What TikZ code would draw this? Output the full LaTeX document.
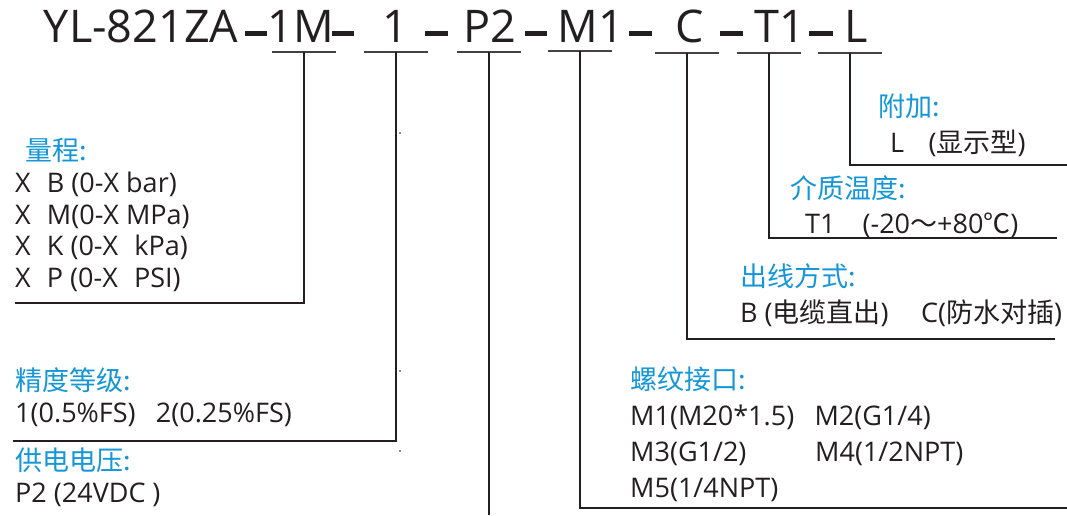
\documentclass[tikz,border=0pt]{standalone}
\usepackage{fontspec}
\setmainfont{Open Sans}
\newfontfamily\cjk{Noto Sans CJK SC}
\definecolor{ink}{HTML}{231F20}
\definecolor{hblue}{RGB}{20,150,215}
\begin{document}
\begin{tikzpicture}[x=1pt,y=-1pt,
  ttl/.style={font=\fontsize{45}{54}\selectfont, text=ink, inner sep=0, anchor=base},
  dashbar/.style={line width=4.5pt, draw=ink},
  bar/.style={line width=2pt, draw=ink!85},
  lead/.style={line width=2.2pt, draw=ink},
  head/.style={font=\cjk\fontsize{27}{30}\selectfont, text=hblue, inner sep=0, anchor=base west},
  body/.style={font=\fontsize{27}{30}\selectfont, text=ink, inner sep=0, anchor=base west}]
\useasboundingbox (0,0) rectangle (1067,515);
% title
\node[ttl] (tYL) at (141,42) {YL-821ZA};
\node[ttl] (t1M) at (301,42) {1M};
\node[ttl] (t1)  at (395,42) {1};
\node[ttl] (tP2) at (490,42) {P2};
\node[ttl] (tM1) at (591,42) {M1};
\node[ttl] (tC)  at (690,42) {C};
\node[ttl] (tT1) at (779.5,42) {T1};
\node[ttl] (tL)  at (856.5,42) {L};
\foreach \a/\b in {245/267,332/354,425/448,525/547,629/652,720/743,809/833}
  \draw[dashbar] (\a,33.5) -- (\b,33.5);
% bars and leads
\coordinate (k1) at (304,52);  \coordinate (k1e) at (15,303);
\coordinate (k2) at (396,52);  \coordinate (k2e) at (13,441);
\coordinate (k3) at (489,52);  \coordinate (k3e) at (489,515);
\coordinate (k4) at (580,51);  \coordinate (k4e) at (1067,508);
\coordinate (k5) at (687,53);  \coordinate (k5e) at (1055,339);
\coordinate (k6) at (769,53);  \coordinate (k6e) at (1057,238);
\coordinate (k7) at (850,53);  \coordinate (k7e) at (1067,165);
\foreach \k in {k1,k2,k3,k4,k5,k6,k7}
  \draw[bar] ([xshift=-32pt]\k) -- ([xshift=32pt]\k);
\draw[lead] (k1) |- (k1e);
\draw[lead] (k2) |- (k2e);
\draw[lead] (k3) -- (k3e);
\draw[lead] (k4) |- (k4e);
\draw[lead] (k5) |- (k5e);
\draw[lead] (k6) |- (k6e);
\draw[lead] (k7) |- (k7e);
\fill[ink] (400,133) circle (0.9);
\fill[ink] (400,371) circle (0.9);
\fill[ink] (400,451) circle (0.9);
% left groups
\node[head] (h1) at (25,160) {量程:};
\node[body] (r1a) at (15,192) {X\hspace{0.6em}B (0-X bar)};
\node[body] (r1b) at (15,224) {X\hspace{0.6em}M(0-X MPa)};
\node[body] (r1c) at (15,255) {X\hspace{0.6em}K (0-X\hspace{0.6em}kPa)};
\node[body] (r1d) at (15,287) {X\hspace{0.6em}P (0-X\hspace{0.6em}PSI)};
\node[head] (h2) at (15,390) {精度等级:};
\node[body] (r2) at (15,422) {1(0.5\%FS)\hspace{0.75em}2(0.25\%FS)};
\node[head] (h3) at (15,470) {供电电压:};
\node[body] (r3) at (15,502) {P2 (24VDC\hspace{0.25em})};
% right groups
\node[head] (h7) at (878,116) {附加:};
\node[body] (r7) at (890,152) {L\hspace{0.9em}({\cjk 显示型})};
\node[head] (h6) at (790,198) {介质温度:};
\node[body] (r6) at (805,233) {T1\hspace{1em}(-20{\cjk ～}+80{\cjk ℃})};
\node[head] (h5) at (740,286) {出线方式:};
\node[body] (r5) at (740,322) {B ({\cjk 电缆直出})\hspace{1.2em}C({\cjk 防水对插})};
\node[head] (h4) at (630,389) {螺纹接口:};
\node[body] (r4a) at (630,425) {M1(M20*1.5)\hspace{0.75em}M2(G1/4)};
\node[body] (r4b) at (630,461) {M3(G1/2)};
\node[body] (r4c) at (815,461) {M4(1/2NPT)};
\node[body] (r4d) at (630,497) {M5(1/4NPT)};
\end{tikzpicture}
\end{document}
